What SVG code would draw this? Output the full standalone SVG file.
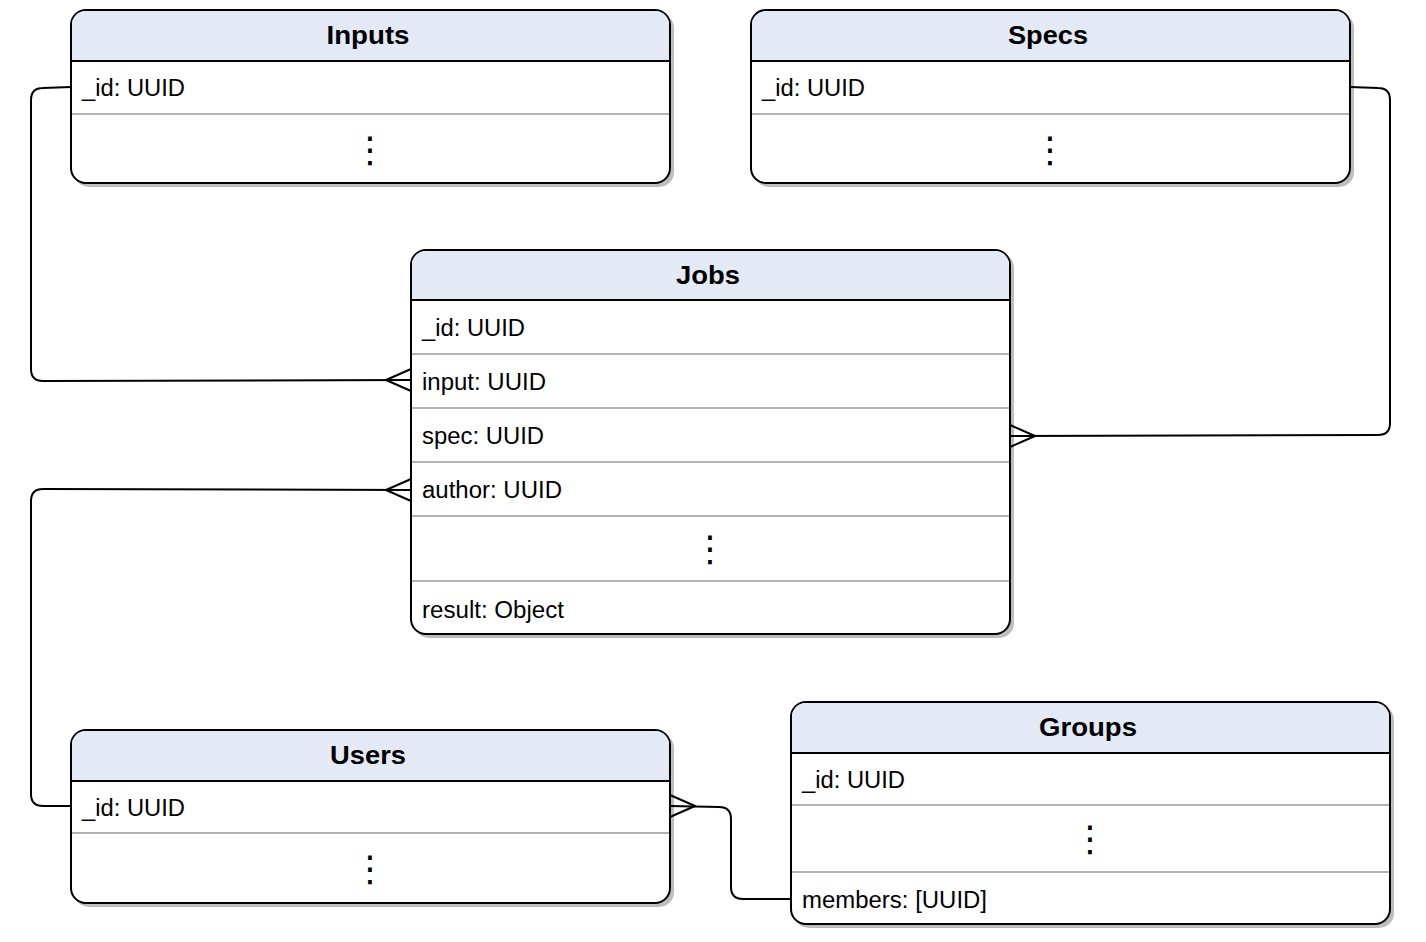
<svg xmlns="http://www.w3.org/2000/svg" width="1426" height="942" viewBox="0 0 1426 942">
<style>
.shadow{fill:#bdbdbd;}
.box{fill:#ffffff;stroke:#000;stroke-width:2;}
.head{fill:#e3eaf6;stroke:none;}
.hline{stroke:#000;stroke-width:2;}
.rline{stroke:#b3b3b3;stroke-width:2;}
.title{font-family:"Liberation Sans",Arial,sans-serif;font-weight:bold;font-size:26px;fill:#000;text-anchor:middle;}
.row{font-family:"Liberation Sans",Arial,sans-serif;font-size:23px;fill:#000;}
.dots{font-family:"DejaVu Sans",sans-serif;font-size:36px;fill:#000;text-anchor:middle;}
.conn{fill:none;stroke:#000;stroke-width:2;stroke-linejoin:round;}
</style>
<rect width="1426" height="942" fill="#ffffff"/>

<g id="inputs">
<rect class="shadow" x="74" y="13" width="600" height="174" rx="15"/>
<rect class="box" x="71" y="10" width="599" height="173" rx="15"/>
<path class="head" d="M72,60 L72,25 A14,14 0 0 1 86,11 L655,11 A14,14 0 0 1 669,25 L669,60 Z"/>
<line class="hline" x1="71" y1="61" x2="670" y2="61"/>
<line class="rline" x1="72" y1="114" x2="669" y2="114"/>
<text class="title" x="368" y="44" textLength="83" lengthAdjust="spacingAndGlyphs">Inputs</text>
<text class="row" x="82" y="96" textLength="103" lengthAdjust="spacingAndGlyphs">_id: UUID</text>
<text class="dots" x="370" y="162">⋮</text>
</g>

<g id="specs">
<rect class="shadow" x="754" y="13" width="600" height="174" rx="15"/>
<rect class="box" x="751" y="10" width="599" height="173" rx="15"/>
<path class="head" d="M752,60 L752,25 A14,14 0 0 1 766,11 L1335,11 A14,14 0 0 1 1349,25 L1349,60 Z"/>
<line class="hline" x1="751" y1="61" x2="1350" y2="61"/>
<line class="rline" x1="752" y1="114" x2="1349" y2="114"/>
<text class="title" x="1048" y="44" textLength="80" lengthAdjust="spacingAndGlyphs">Specs</text>
<text class="row" x="762" y="96" textLength="103" lengthAdjust="spacingAndGlyphs">_id: UUID</text>
<text class="dots" x="1050" y="162">⋮</text>
</g>

<g id="jobs">
<rect class="shadow" x="414" y="253" width="600" height="385" rx="15"/>
<rect class="box" x="411" y="250" width="599" height="384" rx="15"/>
<path class="head" d="M412,299 L412,265 A14,14 0 0 1 426,251 L995,251 A14,14 0 0 1 1009,265 L1009,299 Z"/>
<line class="hline" x1="411" y1="300" x2="1010" y2="300"/>
<line class="rline" x1="412" y1="354" x2="1009" y2="354"/>
<line class="rline" x1="412" y1="408" x2="1009" y2="408"/>
<line class="rline" x1="412" y1="462" x2="1009" y2="462"/>
<line class="rline" x1="412" y1="516" x2="1009" y2="516"/>
<line class="rline" x1="412" y1="581" x2="1009" y2="581"/>
<text class="title" x="708" y="284" textLength="64" lengthAdjust="spacingAndGlyphs">Jobs</text>
<text class="row" x="422" y="336" textLength="103" lengthAdjust="spacingAndGlyphs">_id: UUID</text>
<text class="row" x="422" y="390" textLength="124" lengthAdjust="spacingAndGlyphs">input: UUID</text>
<text class="row" x="422" y="444" textLength="122" lengthAdjust="spacingAndGlyphs">spec: UUID</text>
<text class="row" x="422" y="498" textLength="140" lengthAdjust="spacingAndGlyphs">author: UUID</text>
<text class="dots" x="710" y="561">⋮</text>
<text class="row" x="422" y="618" textLength="142" lengthAdjust="spacingAndGlyphs">result: Object</text>
</g>

<g id="users">
<rect class="shadow" x="74" y="733" width="600" height="174" rx="15"/>
<rect class="box" x="71" y="730" width="599" height="173" rx="15"/>
<path class="head" d="M72,780 L72,745 A14,14 0 0 1 86,731 L655,731 A14,14 0 0 1 669,745 L669,780 Z"/>
<line class="hline" x1="71" y1="781" x2="670" y2="781"/>
<line class="rline" x1="72" y1="833" x2="669" y2="833"/>
<text class="title" x="368" y="764" textLength="76" lengthAdjust="spacingAndGlyphs">Users</text>
<text class="row" x="82" y="816" textLength="103" lengthAdjust="spacingAndGlyphs">_id: UUID</text>
<text class="dots" x="370" y="881">⋮</text>
</g>

<g id="groups">
<rect class="shadow" x="794" y="705" width="600" height="223" rx="15"/>
<rect class="box" x="791" y="702" width="599" height="222" rx="15"/>
<path class="head" d="M792,752 L792,717 A14,14 0 0 1 806,703 L1375,703 A14,14 0 0 1 1389,717 L1389,752 Z"/>
<line class="hline" x1="791" y1="753" x2="1390" y2="753"/>
<line class="rline" x1="792" y1="805" x2="1389" y2="805"/>
<line class="rline" x1="792" y1="872" x2="1389" y2="872"/>
<text class="title" x="1088" y="736" textLength="98" lengthAdjust="spacingAndGlyphs">Groups</text>
<text class="row" x="802" y="788" textLength="103" lengthAdjust="spacingAndGlyphs">_id: UUID</text>
<text class="dots" x="1090" y="851">⋮</text>
<text class="row" x="802" y="908" textLength="185" lengthAdjust="spacingAndGlyphs">members: [UUID]</text>
</g>

<g id="connectors">
<path class="conn" d="M71,87 L43,88 Q31,88 31,100 L31,369 Q31,381 43,381 L411,380"/>
<path class="conn" d="M411,369 L386,380 L411,391"/>
<path class="conn" d="M1350,87 L1378,88 Q1390,88 1390,100 L1390,423 Q1390,435 1378,435 L1010,436"/>
<path class="conn" d="M1010,425 L1035,436 L1010,447"/>
<path class="conn" d="M71,806 L43,806 Q31,806 31,794 L31,501 Q31,489 43,489 L411,490"/>
<path class="conn" d="M411,479 L386,490 L411,501"/>
<path class="conn" d="M791,899 L743,899 Q731,899 731,887 L731,819 Q731,807 719,807 L670,806"/>
<path class="conn" d="M670,795 L695,806 L670,817"/>
</g>
</svg>
